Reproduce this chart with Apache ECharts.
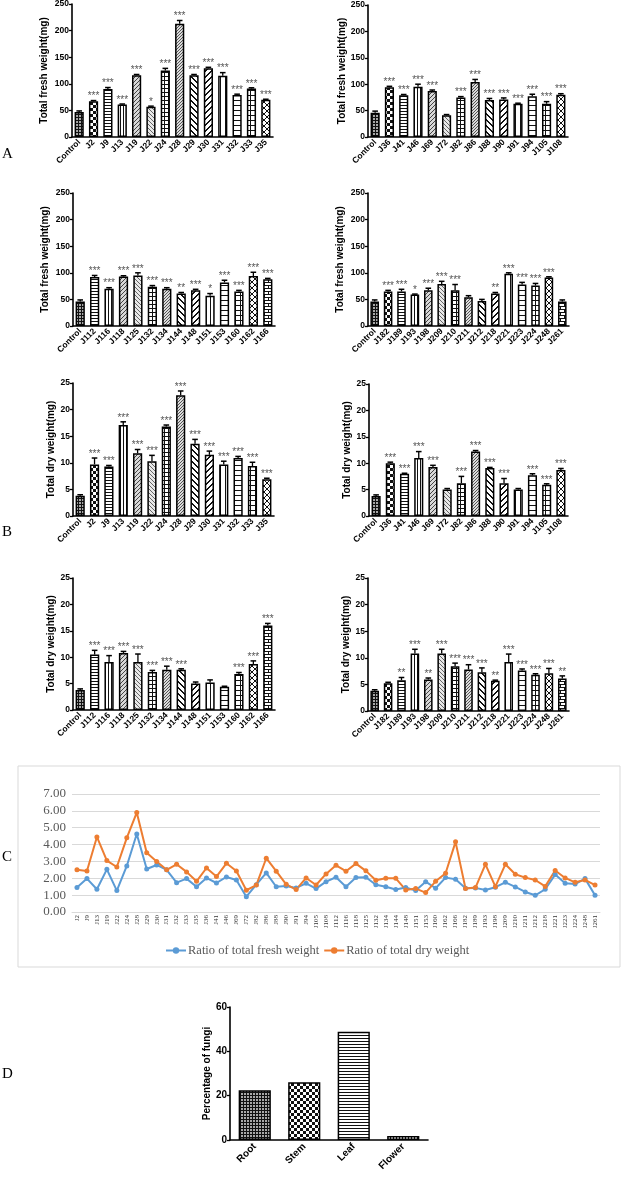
<!DOCTYPE html>
<html><head><meta charset="utf-8">
<script src="https://cdn.jsdelivr.net/npm/echarts/dist/echarts.min.js"></script>
<style>html,body{margin:0;padding:0;background:#fff}#c{width:625px;height:1177px}</style>
</head><body><div id="c"></div>
<script>
// ---------------- DATA ----------------
const catsG1 = ['Control','J2','J9','J13','J19','J22','J24','J28','J29','J30','J31','J32','J33','J35'];
const catsG2 = ['Control','J36','J41','J46','J69','J72','J82','J86','J88','J90','J91','J94','J105','J108'];
const catsG3 = ['Control','J112','J116','J118','J125','J132','J134','J144','J148','J151','J153','J160','J162','J166'];
const catsG4 = ['Control','J182','J189','J193','J198','J209','J210','J211','J212','J218','J221','J223','J224','J248','J261'];

const freshG1 = [47,67,90,61,116,57,125,213,116,129,115,79,91,70];
const freshG1Err = [2,1.5,3,1,1.5,1,4,6,1.5,2,6,1.5,1.5,1];
const freshG1Sig = ['','***','***','***','***','*','***','***','***','***','***','***','***','***'];

const freshG2 = [46,94,79,95,87,41,75,104,70,71,63,77,63,80];
const freshG2Err = [3,2,1.5,5,2,1.5,1.5,5,3,3,1,4,4,2];
const freshG2Sig = ['','***','***','***','***','','***','***','***','***','***','***','***','***'];

const freshG3 = [46,92,70,93,95,74,70,61,67,57,82,65,94,88];
const freshG3Err = [3,3,2,1.5,5,2,2,2,2,4,4,2,7,1.5];
const freshG3Sig = ['','***','***','***','***','***','***','**','***','*','***','***','***','***'];

const freshG4 = [46,65,65,59,67,79,67,54,47,61,98,78,76,91,46];
const freshG4Err = [3,2,4,1,4,5,11,3,3,2,2,4,4,1.5,3];
const freshG4Sig = ['','***','***','*','***','***','***','','','**','***','***','***','***',''];

const dryG1 = [3.8,9.7,9.3,17.1,11.8,10.3,16.8,22.7,13.6,11.5,9.7,10.9,9.4,6.9];
const dryG1Err = [0.2,1.2,0.2,0.6,0.7,1.1,0.3,0.8,0.8,0.7,0.6,0.3,0.7,0.2];
const dryG1Sig = ['','***','***','***','***','***','***','***','***','***','***','***','***','***'];

const dryG2 = [3.8,10.0,8.0,11.0,9.3,5.0,6.2,12.2,9.1,6.2,5.0,7.7,5.9,8.7];
const dryG2Err = [0.2,0.2,0.1,1.2,0.3,0.2,1.3,0.2,0.1,0.9,0.2,0.3,0.2,0.3];
const dryG2Sig = ['','***','***','***','***','','***','***','***','***','','***','***','***'];

const dryG3 = [3.8,10.5,9.1,10.8,9.1,7.2,7.6,7.6,5.0,5.2,4.4,6.8,8.7,16.0];
const dryG3Err = [0.2,0.8,1.2,0.3,1.5,0.3,0.7,0.2,0.3,0.5,0.1,0.3,0.6,0.4];
const dryG3Sig = ['','***','***','***','***','***','***','***','','','','***','***','***'];

const dryG4 = [3.8,5.2,5.8,10.8,5.9,10.8,8.4,7.8,7.3,5.7,9.2,7.6,6.8,7.1,6.1];
const dryG4Err = [0.2,0.2,0.5,0.8,0.3,0.8,0.6,0.9,0.8,0.1,1.5,0.3,0.2,0.9,0.5];
const dryG4Sig = ['','','**','***','**','***','***','***','***','**','***','***','***','***','**'];

const ratioCats = ['J2','J9','J13','J19','J22','J24','J28','J29','J30','J31','J32','J33','J35',
  'J36','J41','J46','J69','J72','J82','J86','J88','J90','J91','J94','J105','J108',
  'J112','J116','J118','J125','J132','J134','J144','J148','J151','J153','J160','J162','J166',
  'J182','J189','J193','J198','J209','J210','J211','J212','J218','J221','J223','J224','J248','J261'];
const ratioFresh = [1.46,1.98,1.35,2.53,1.27,2.73,4.63,2.55,2.79,2.5,1.74,1.98,1.5,
  2.02,1.72,2.08,1.9,0.91,1.62,2.32,1.5,1.54,1.43,1.7,1.39,1.8,
  2.06,1.5,2.04,2.06,1.62,1.5,1.33,1.45,1.27,1.8,1.41,2.04,1.94,
  1.41,1.43,1.31,1.47,1.76,1.49,1.19,0.99,1.35,2.22,1.7,1.66,1.98,0.99];
const ratioDry = [2.5,2.43,4.45,3.05,2.67,4.4,5.9,3.52,3.0,2.5,2.83,2.38,1.82,
  2.61,2.1,2.89,2.43,1.29,1.6,3.19,2.42,1.64,1.33,2.02,1.6,2.26,
  2.77,2.42,2.87,2.44,1.88,2.0,2.0,1.31,1.39,1.15,1.82,2.3,4.16,
  1.39,1.45,2.83,1.5,2.83,2.24,2.04,1.9,1.52,2.46,2.02,1.76,1.9,1.6];
const ratioTicks = [0,1,2,3,4,5,6,7];

const organCats = ['Root','Stem','Leaf','Flower'];
const organPct = [22.5,26,48.8,1.8];

// ---------------- PATTERNS ----------------
function makePat(kind){
  const c = document.createElement('canvas');
  const sizes = {dense:[3,3],checker:[6,6],hl:[3,3],vl:[3,3],dd:[4,4],dg:[4,4],grid:[4,4],dots:[3,3],
    bd:[6,6],fd:[6,6],vw:[5,5],hw:[5,5],gw:[5,5],xc:[6,6],brick:[8,6]};
  const [w,h] = sizes[kind];
  c.width = w; c.height = h;
  const g = c.getContext('2d');
  const bg = {dense:'#a8a8a8',dd:'#d8d8d8',dg:'#e8e8e8',dots:'#dcdcdc'}[kind] || '#fff';
  g.fillStyle = bg; g.fillRect(0,0,w,h);
  g.fillStyle = '#111';
  const px = (x,y)=>g.fillRect(((x%w)+w)%w, ((y%h)+h)%h, 1, 1);
  switch(kind){
    case 'dense': for(let i=0;i<w;i++){px(i,0);px(0,i);} break;
    case 'checker': g.fillRect(0,0,3,3); g.fillRect(3,3,3,3); break;
    case 'hl': g.fillRect(0,0,w,1); break;
    case 'vl': g.fillRect(0,0,1,h); break;
    case 'dd': g.fillStyle='#444'; for(let i=0;i<4;i++) px(i,3-i); break;
    case 'dg': g.fillStyle='#666'; for(let i=0;i<4;i++) px(i,i); break;
    case 'grid': g.fillRect(0,0,w,1); g.fillRect(0,0,1,h); break;
    case 'dots': g.fillStyle='#555'; px(0,0); px(1,2); px(2,1); break;
    case 'bd': for(let i=0;i<6;i++){px(i,i);px(i+1,i);} break;
    case 'fd': for(let i=0;i<6;i++){px(i,5-i);px(i+1,5-i);} break;
    case 'vw': g.fillRect(0,0,1,h); break;
    case 'hw': g.fillRect(0,0,w,1); break;
    case 'gw': g.fillRect(0,0,w,1); g.fillRect(0,0,1,h); break;
    case 'xc': for(let i=0;i<6;i++){px(i,i);px(i,5-i);} break;
    case 'brick': g.fillRect(0,0,w,1); g.fillRect(0,3,w,1); g.fillRect(0,0,1,3); g.fillRect(4,3,1,3); break;
  }
  return {image:c, repeat:'repeat'};
}
const PATKINDS = ['dense','checker','hl','vl','dd','dg','grid','dots','bd','fd','vw','hw','gw','xc','brick'];
const PAT = PATKINDS.map(makePat);
const seq14 = [0,1,2,3,4,5,6,7,8,9,10,11,12,13];
const seq14b = [0,2,3,4,5,6,7,8,9,10,11,12,13,14];
const seq15 = [0,1,2,3,4,5,6,7,8,9,10,11,12,13,14];

// ---------------- LAYOUT ----------------
const FB = '"Liberation Sans", Arial, sans-serif';
const FS = '"Liberation Serif", "Times New Roman", serif';
const panels = [
  {cats:catsG1, v:freshG1, e:freshG1Err, s:freshG1Sig, p:seq14, max:250, step:50, name:'Total fresh weight(mg)', grid:{left:72,top:4,width:201,height:133}, gap:23},
  {cats:catsG2, v:freshG2, e:freshG2Err, s:freshG2Sig, p:seq14, max:250, step:50, name:'Total fresh weight(mg)', grid:{left:368,top:5,width:200,height:132}, gap:21},
  {cats:catsG3, v:freshG3, e:freshG3Err, s:freshG3Sig, p:seq14b, max:250, step:50, name:'Total fresh weight(mg)', grid:{left:73,top:193,width:202,height:133}, gap:23},
  {cats:catsG4, v:freshG4, e:freshG4Err, s:freshG4Sig, p:seq15, max:250, step:50, name:'Total fresh weight(mg)', grid:{left:368,top:193,width:201,height:133}, gap:23},
  {cats:catsG1, v:dryG1, e:dryG1Err, s:dryG1Sig, p:seq14, max:25, step:5, name:'Total dry weight(mg)', grid:{left:73,top:383,width:201,height:133}, gap:16},
  {cats:catsG2, v:dryG2, e:dryG2Err, s:dryG2Sig, p:seq14, max:25, step:5, name:'Total dry weight(mg)', grid:{left:369,top:384,width:199,height:132}, gap:16},
  {cats:catsG3, v:dryG3, e:dryG3Err, s:dryG3Sig, p:seq14b, max:25, step:5, name:'Total dry weight(mg)', grid:{left:73,top:578,width:202,height:132}, gap:17},
  {cats:catsG4, v:dryG4, e:dryG4Err, s:dryG4Sig, p:seq15, max:25, step:5, name:'Total dry weight(mg)', grid:{left:368,top:578,width:201,height:133}, gap:16}
];

const grids=[], xAxes=[], yAxes=[], series=[];
function errRenderer(sig){
  return function(params, api){
    const j = api.value(0), v = api.value(1), e = api.value(2);
    const a = api.coord([j, v]), b = api.coord([j, v + e]);
    const ch = [];
    if (e > 0) {
      ch.push({type:'line', shape:{x1:a[0],y1:a[1],x2:b[0],y2:b[1]}, style:{stroke:'#000',lineWidth:1.3}});
      ch.push({type:'line', shape:{x1:b[0]-2.8,y1:b[1],x2:b[0]+2.8,y2:b[1]}, style:{stroke:'#000',lineWidth:1.5}});
    }
    const s = sig[params.dataIndex];
    if (s) ch.push({type:'text', style:{text:s, x:b[0], y:b[1]+1, align:'center', verticalAlign:'bottom',
      fontSize:10, fontFamily:FB, fill:'#555'}});
    return {type:'group', children:ch};
  };
}
const axisBlack = {lineStyle:{color:'#000',width:1.6}};
panels.forEach((P,i)=>{
  grids.push(Object.assign({outerBoundsMode:'none', containLabel:false}, P.grid));
  xAxes.push({type:'category', gridIndex:i, data:P.cats, axisLine:axisBlack,
    axisTick:{alignWithLabel:true, length:3, lineStyle:{color:'#000',width:1.3}},
    axisLabel:{rotate:45, interval:0, fontSize:8.5, fontWeight:'bold', color:'#000', fontFamily:FB, margin:4}});
  yAxes.push({type:'value', gridIndex:i, min:0, max:P.max, interval:P.step, axisLine:Object.assign({show:true},axisBlack),
    axisTick:{show:true, length:3, lineStyle:{color:'#000',width:1.3}}, splitLine:{show:false},
    axisLabel:{fontSize:8.5, fontWeight:'bold', color:'#000', fontFamily:FB, margin:3},
    name:P.name, nameLocation:'middle', nameGap:P.gap, nameRotate:90,
    nameTextStyle:{fontSize:10, fontWeight:'bold', color:'#000', fontFamily:FB}});
  series.push({type:'bar', xAxisIndex:i, yAxisIndex:i, barWidth:'64%', animation:false,
    data:P.v.map((v,j)=>({value:v, itemStyle:{color:PAT[P.p[j]]}})),
    itemStyle:{borderColor:'#000', borderWidth:1.5}});
  series.push({type:'custom', xAxisIndex:i, yAxisIndex:i, z:5, animation:false,
    renderItem:errRenderer(P.s), encode:{x:0,y:1},
    data:P.v.map((v,j)=>[j, v, P.e[j]])});
});

// line chart (C)
const LI = grids.length;
grids.push({left:72, top:794, width:528, height:118, outerBoundsMode:'none', containLabel:false});
xAxes.push({type:'category', gridIndex:LI, data:ratioCats, boundaryGap:true,
  axisLine:{lineStyle:{color:'#d9d9d9'}}, axisTick:{show:false},
  axisLabel:{interval:0, rotate:90, fontSize:7, color:'#333', fontFamily:FS, margin:3}});
yAxes.push({type:'value', gridIndex:LI, min:ratioTicks[0], max:ratioTicks[ratioTicks.length-1], interval:1,
  axisLine:{show:false}, axisTick:{show:false},
  splitLine:{lineStyle:{color:'#d9d9d9', width:1}},
  axisLabel:{formatter:v=>v.toFixed(2), fontSize:13, color:'#595959', fontFamily:FS, margin:6}});
series.push({type:'line', name:'Ratio of total fresh weight', xAxisIndex:LI, yAxisIndex:LI, data:ratioFresh,
  symbol:'circle', symbolSize:5, color:'#5b9bd5', lineStyle:{width:2}, animation:false});
series.push({type:'line', name:'Ratio of total dry weight', xAxisIndex:LI, yAxisIndex:LI, data:ratioDry,
  symbol:'circle', symbolSize:5, color:'#ed7d31', lineStyle:{width:2}, animation:false});

// bar chart (D)
const DI = grids.length;
grids.push({left:230, top:1007, width:198, height:133, outerBoundsMode:'none', containLabel:false});
xAxes.push({type:'category', gridIndex:DI, data:organCats, axisLine:axisBlack,
  axisTick:{alignWithLabel:true, length:3, lineStyle:{color:'#000',width:1.3}},
  axisLabel:{rotate:45, interval:0, fontSize:10, fontWeight:'bold', color:'#000', fontFamily:FB, margin:5}});
yAxes.push({type:'value', gridIndex:DI, min:0, max:60, interval:20, axisLine:Object.assign({show:true},axisBlack),
  axisTick:{show:true, length:3, lineStyle:{color:'#000',width:1.3}}, splitLine:{show:false},
  axisLabel:{fontSize:10, fontWeight:'bold', color:'#000', fontFamily:FB, margin:3},
  name:'Percentage of fungi', nameLocation:'middle', nameGap:17, nameRotate:90,
  nameTextStyle:{fontSize:10, fontWeight:'bold', color:'#000', fontFamily:FB}});
series.push({type:'bar', xAxisIndex:DI, yAxisIndex:DI, barWidth:'65%', animation:false,
  data:organPct.map((v,j)=>({value:v, itemStyle:{color:PAT[j]}})),
  itemStyle:{borderColor:'#000', borderWidth:1.5}});

const letter = (t,x,y)=>({type:'text', x:x, y:y, style:{text:t, fontSize:15, fontFamily:FS, fill:'#000', align:'left', verticalAlign:'middle'}});

const chart = echarts.init(document.getElementById('c'), null, {renderer:'canvas'});
chart.setOption({
  backgroundColor:'#fff',
  animation:false,
  grid:grids, xAxis:xAxes, yAxis:yAxes, series:series,
  legend:{data:['Ratio of total fresh weight','Ratio of total dry weight'], left:160, top:939,
    itemWidth:20, itemHeight:8, itemGap:4,
    textStyle:{fontSize:12.5, fontFamily:FS, color:'#595959', padding:[0,0,0,-3]}},
  graphic:[
    {type:'rect', shape:{x:18, y:766, width:602, height:201}, style:{fill:'none', stroke:'#d9d9d9', lineWidth:1}, z:-1},
    letter('A',2,154), letter('B',2,532), letter('C',2,857), letter('D',2,1074)
  ]
});
</script>
</body></html>
